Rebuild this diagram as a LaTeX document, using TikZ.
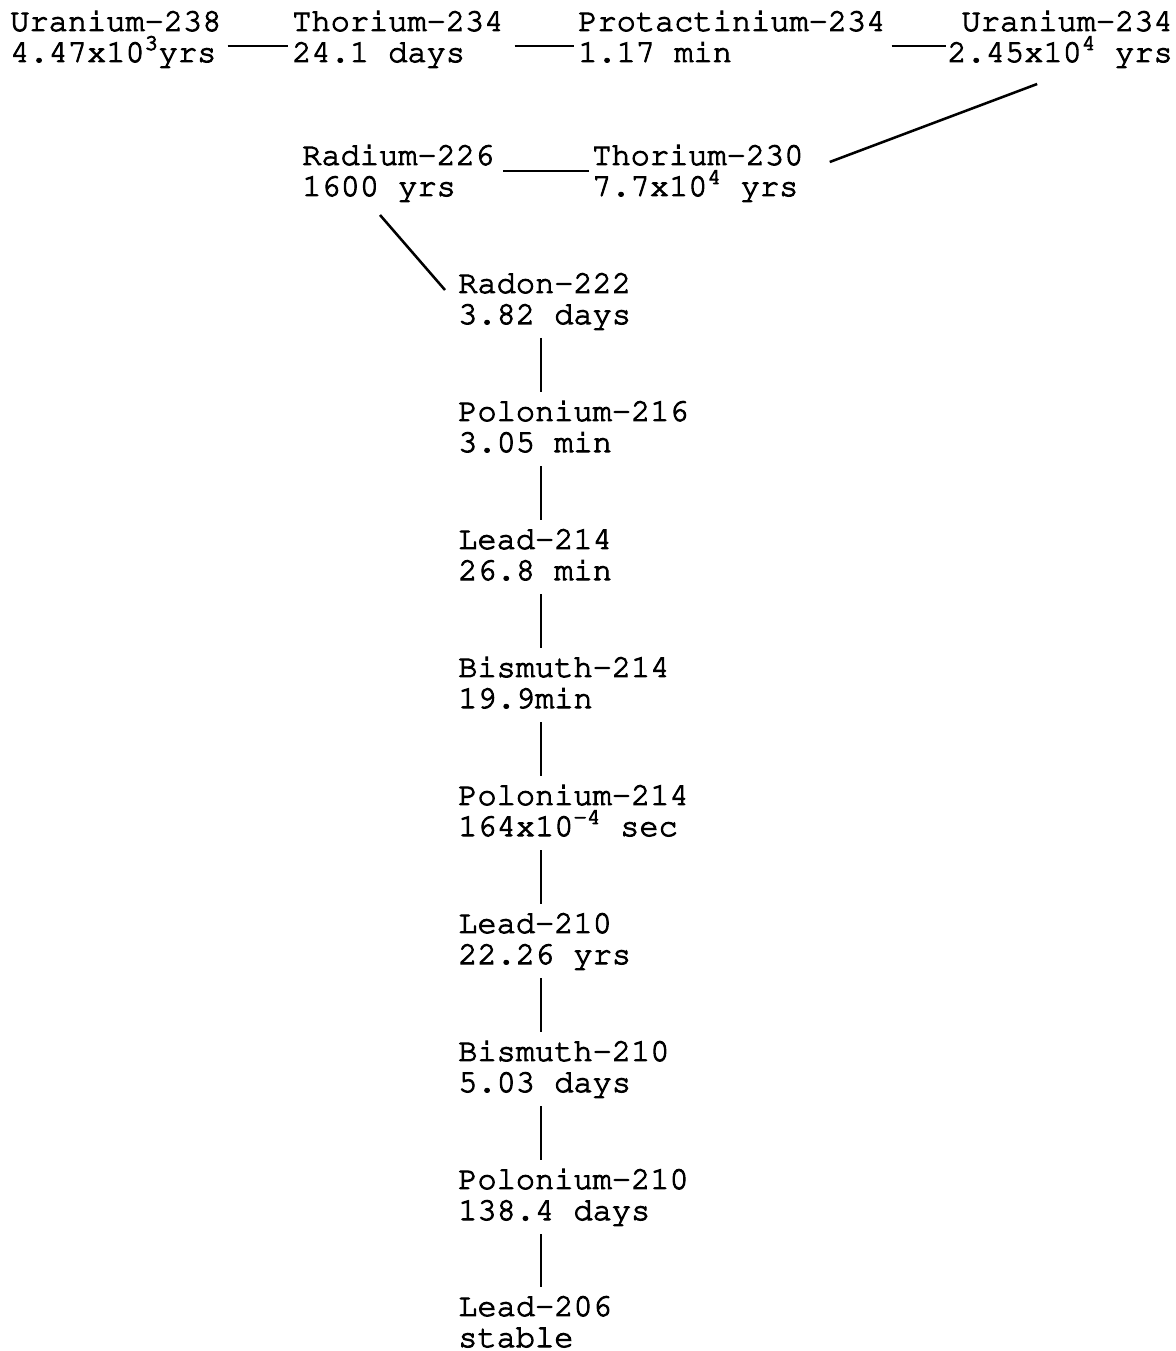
\documentclass[tikz,border=0pt]{standalone}
\usepackage[T1]{fontenc}
\usepackage{courier}
\newcommand\isoheavy{\special{pdf:literal direct 2 Tr 0.75 w}}
\newcommand\isofont{\ttfamily}
\begin{document}
\begin{tikzpicture}[x=0.75pt,y=-0.75pt,
  iso/.style={anchor=base west, align=left, inner sep=0pt, font=\isofont\fontsize{24}{23.3}\selectfont\isoheavy},
  link/.style={line width=1.9pt}]
\useasboundingbox (0,0) rectangle (1176,1351);
% top row (coordinates are the baseline of the second line)
\node[iso] (u238) at (10,62) {Uranium-238\\4.47x10\textsuperscript{3}yrs};
\node[iso] (th234) at (292,62) {Thorium-234\\24.1 days};
\node[iso] (pa234) at (578,62) {Protactinium-234\\1.17 min};
\node[iso,anchor=base east,align=right] (u234) at (1173,62) {Uranium-234\\2.45x10\textsuperscript{4} yrs};
% second row
\node[iso] (ra226) at (302,196) {Radium-226\\1600 yrs};
\node[iso] (th230) at (592,196) {Thorium-230\\7.7x10\textsuperscript{4} yrs};
% chain
\node[iso] (rn222) at (458,324) {Radon-222\\3.82 days};
\node[iso] (po216) at (458,452) {Polonium-216\\3.05 min};
\node[iso] (pb214) at (458,580) {Lead-214\\26.8 min};
\node[iso] (bi214) at (458,708) {Bismuth-214\\19.9min};
\node[iso] (po214) at (458,836) {Polonium-214\\164x10\textsuperscript{-4} sec};
\node[iso] (pb210) at (458,964) {Lead-210\\22.26 yrs};
\node[iso] (bi210) at (458,1092) {Bismuth-210\\5.03 days};
\node[iso] (po210) at (458,1220) {Polonium-210\\138.4 days};
\node[iso] (pb206) at (458,1347) {Lead-206\\stable};
% connectors
\draw[link] ([shift={(6,-16)}]u238.base east) -- ([shift={(-4,-16)}]th234.base west);
\draw[link] ([shift={(11,-16)}]th234.base east) -- ([shift={(-4,-16)}]pa234.base west);
\draw[link] ([shift={(6,-16)}]pa234.base east) -- ([shift={(-1,-16)}]u234.base west);
\draw[link] ([shift={(90,22)}]u234.base west) -- ([shift={(26,-34)}]th230.base east);
\draw[link] ([shift={(-3,-25)}]th230.base west) -- ([shift={(8,-25)}]ra226.base east);
\draw[link] ([shift={(78,19)}]ra226.base west) -- ([shift={(-13,-34)}]rn222.base west);
\foreach \a/\b in {rn222/po216,po216/pb214,pb214/bi214,bi214/po214,po214/pb210,pb210/bi210,bi210/po210,po210/pb206}{
  \draw[link] ([shift={(83,14)}]\a.base west) -- ([shift={(83,-60)}]\b.base west);
}
\end{tikzpicture}
\end{document}
